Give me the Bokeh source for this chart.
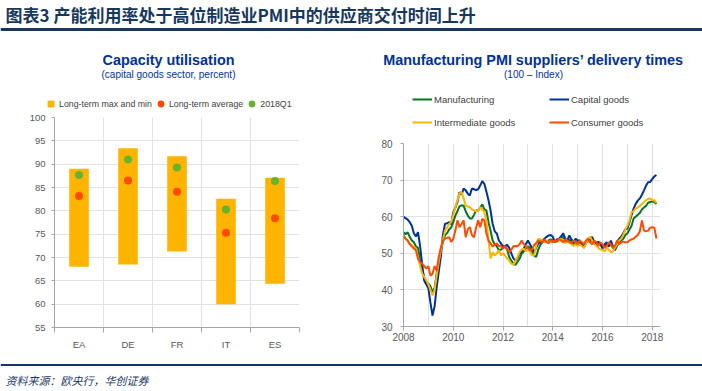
from bokeh.plotting import figure
from bokeh.layouts import column, row
from bokeh.models import (ColumnDataSource, FixedTicker, Legend, LegendItem,
                          Label, Span)
from bokeh.embed import file_html
from bokeh.resources import INLINE

# ---------------- data: capacity utilisation ----------------
countries = ["EA", "DE", "FR", "IT", "ES"]
lt_max = [89.0, 93.4, 91.7, 82.6, 87.1]
lt_min = [68.0, 68.5, 71.3, 60.0, 64.4]
lt_avg = [83.2, 86.5, 84.1, 75.3, 78.4]
q1_2018 = [87.7, 91.0, 89.3, 80.3, 86.4]
cu_ticks = [55, 60, 65, 70, 75, 80, 85, 90, 95, 100]

# ---------------- data: PMI suppliers' delivery times (monthly, Jan 2008 - Mar 2018) ----------------
start_year = 2008
manufacturing = [
    55.8, 55.2, 55.8, 54.5, 53.5, 53.0, 51.9, 51.5, 48.0, 45.3, 43.5, 42.0,
    41.7, 41.0, 39.4, 40.5, 44.5, 48.0, 50.8, 53.0, 54.9, 55.5, 56.5, 57.1,
    58.5, 60.3, 61.5, 62.8, 63.1, 63.0, 61.5, 60.3, 59.5, 59.5, 60.5, 61.7,
    61.7, 62.5, 63.4, 62.0, 61.7, 58.5, 56.2, 53.5, 52.5, 51.9, 50.8, 51.0,
    51.5, 51.9, 51.0, 49.0, 48.0, 47.2, 46.8, 47.7, 48.5, 49.9, 50.5, 51.0,
    51.9, 51.5, 50.5, 49.4, 49.0, 51.0, 52.3, 53.0, 53.5, 53.2, 53.5, 53.8,
    53.5, 53.0, 53.5, 53.8, 54.0, 54.5, 53.5, 53.0, 53.8, 53.2, 52.5, 53.0,
    53.0, 52.8, 52.5, 52.0, 52.8, 53.5, 53.0, 54.0, 53.0, 52.5, 53.0, 52.5,
    51.5, 52.0, 52.5, 51.8, 52.5, 51.5, 51.0, 52.0, 53.0, 53.5, 54.0, 55.0,
    55.5, 56.5, 57.5, 59.5, 60.0, 60.5, 61.0, 62.0, 62.5, 63.0, 63.8, 64.0,
    64.2, 64.0, 63.5,
]
capital_goods = [
    60.0, 59.6, 59.2, 58.5, 57.5, 55.5, 54.6, 55.8, 52.0, 47.0, 42.5, 41.5,
    40.4, 36.5, 33.0, 35.5, 40.7, 45.0, 49.0, 55.0, 58.0, 58.2, 58.5, 58.0,
    61.2, 62.5, 64.0, 66.7, 66.0, 67.7, 67.2, 66.3, 65.8, 67.7, 67.5, 67.3,
    67.5, 68.5, 69.7, 69.0, 66.8, 64.5, 61.7, 58.0, 56.0, 55.4, 53.5, 52.7,
    51.9, 52.0, 52.3, 51.5, 50.0, 48.6, 48.0, 48.8, 49.9, 50.5, 51.3, 52.5,
    53.5, 52.5, 51.5, 50.3, 51.5, 52.7, 53.0, 53.5, 54.0, 54.5, 54.9, 55.0,
    54.5, 53.2, 53.8, 54.0, 54.6, 55.5, 54.0, 53.5, 54.9, 53.8, 53.0, 54.0,
    53.5, 53.5, 52.5, 51.5, 53.0, 54.0, 53.5, 54.5, 53.0, 52.5, 53.2, 52.5,
    51.3, 52.5, 53.0, 52.0, 53.5, 52.0, 50.8, 53.0, 54.0, 54.5, 55.5, 56.5,
    56.8, 58.5, 60.5, 62.2, 63.5, 64.4, 65.0, 66.0, 67.2, 68.5, 69.4, 69.5,
    70.3, 71.0, 71.4,
]
intermediate_goods = [
    54.9, 54.0, 53.5, 52.7, 52.2, 51.8, 51.3, 49.0, 46.5, 44.5, 43.5, 42.6,
    41.5, 40.0, 38.5, 40.0, 43.9, 47.5, 50.8, 53.5, 56.2, 57.0, 58.0, 58.5,
    60.5, 62.6, 64.5, 66.3, 66.7, 65.0, 63.1, 62.8, 62.6, 62.0, 61.7, 61.5,
    61.7, 62.6, 62.0, 61.2, 59.0, 53.5, 48.6, 50.3, 49.4, 50.0, 50.8, 49.4,
    50.0, 49.4, 48.6, 48.0, 47.2, 46.8, 48.0, 49.0, 50.3, 51.0, 51.3, 50.5,
    51.3, 50.5, 49.4, 49.5, 52.0, 54.0, 53.8, 53.5, 53.0, 53.5, 53.0, 53.5,
    53.0, 53.5, 53.0, 53.8, 54.0, 53.5, 52.8, 53.0, 53.0, 52.5, 52.0, 52.5,
    52.0, 52.5, 52.0, 51.5, 52.5, 54.0, 54.5, 53.5, 52.5, 52.0, 51.5, 51.0,
    51.0, 50.5, 51.5, 51.0, 50.3, 50.5, 51.5, 52.5, 53.5, 54.0, 55.0, 56.5,
    57.5, 59.0, 61.2, 61.5, 62.2, 62.5, 63.0, 63.5, 64.0, 64.5, 64.9, 65.0,
    64.5, 64.5, 63.8,
]
consumer_goods = [
    54.9, 54.0, 53.5, 52.5, 51.9, 51.3, 50.8, 48.5, 47.6, 47.2, 46.5, 45.8,
    46.5, 43.9, 44.4, 46.5, 45.3, 49.0, 51.5, 53.5, 54.0, 54.2, 54.4, 53.1,
    54.0, 56.2, 59.0, 57.1, 58.0, 59.0, 54.4, 56.6, 57.1, 55.0, 54.4, 57.0,
    59.0, 57.1, 59.4, 59.0, 55.4, 53.5, 52.7, 51.9, 52.3, 52.7, 51.9, 52.0,
    51.3, 52.0, 51.0, 50.3, 51.0, 51.9, 52.0, 51.9, 52.5, 53.5, 52.5, 51.9,
    51.5, 50.8, 51.0, 52.3, 52.8, 53.5, 53.3, 53.0, 53.8, 53.0, 52.8, 53.5,
    53.0, 53.5, 53.2, 54.0, 53.5, 53.0, 53.8, 53.5, 53.0, 52.8, 53.5, 53.0,
    52.5, 53.5, 53.0, 52.5, 53.5, 54.0, 53.0, 52.5, 53.5, 53.0, 52.0, 53.0,
    52.5, 51.5, 52.0, 53.0, 52.5, 51.5, 52.0, 53.5, 52.5, 53.0, 53.2, 53.0,
    53.0, 53.5, 53.8, 54.0, 54.5, 55.0, 56.0, 59.0, 56.2, 56.0, 56.2, 57.0,
    57.1, 57.0, 54.0,
]
year_labels = [2008, 2010, 2012, 2014, 2016, 2018]
year_grid = list(range(2008, 2019))
pmi_ticks = [30, 40, 50, 60, 70, 80]

# ---------------- style ----------------
NAVY = "#17375E"
ECB_BLUE = "#003299"
ORANGE = "#FFB400"
RED = "#FF4B00"
GREEN = "#65B32E"
DKGREEN = "#00781E"
YELLOW = "#FFB400"
GRID = "#E2E2E2"
AXIS = "#A6A6A6"
TXT = "#595959"
LEGTXT = "#404040"
FONT = "Liberation Sans"
CJK = "Noto Sans CJK SC"
W = 702
HALF = 351
NAN = float("nan")


def blank(width, height):
    f = figure(width=width, height=height, x_range=(0, width), y_range=(0, height),
               output_backend="svg", toolbar_location=None, min_border=0,
               x_axis_type=None, y_axis_type=None, title=None, frame_align=False)
    f.grid.visible = False
    f.outline_line_color = None
    return f


def style_axes(p, size):
    for ax in (p.xaxis[0], p.yaxis[0]):
        ax.axis_line_color = AXIS
        ax.major_tick_line_color = AXIS
        ax.minor_tick_line_color = None
        ax.major_tick_in = 0
        ax.major_tick_out = 3
        ax.major_label_text_font = FONT
        ax.major_label_text_font_size = size
        ax.major_label_text_color = TXT
    p.grid.grid_line_color = GRID
    p.outline_line_color = None


def text(f, x, y, s, size, bold=False, color=ECB_BLUE):
    f.add_layout(Label(x=x, y=y, text=s, text_font=FONT, text_font_size=size,
                       text_font_style="bold" if bold else "normal",
                       text_color=color, text_align="center", text_baseline="middle"))


# ---------------- header ----------------
hdr = blank(W, 36)
hdr.add_layout(Label(x=5, y=22, text="图表3 产能利用率处于高位制造业PMI中的供应商交付时间上升",
                     text_font=CJK, text_font_size="17px", text_font_style="bold",
                     text_color=NAVY, text_baseline="middle"))
hdr.add_layout(Span(location=7, dimension="width", line_color=NAVY, line_width=3))

# ---------------- left chart: title block ----------------
top1 = blank(HALF, 76)
text(top1, 168, 53, "Capacity utilisation", "14.4px", bold=True)
text(top1, 168, 38, "(capital goods sector, percent)", "10px")
d_sq = top1.scatter(x=[NAN], y=[NAN], marker="square", fill_color=ORANGE, line_color=None)
d_avg = top1.scatter(x=[NAN], y=[NAN], marker="circle", fill_color=RED, line_color=None)
d_q1 = top1.scatter(x=[NAN], y=[NAN], marker="circle", fill_color=GREEN, line_color=None)
leg1 = Legend(items=[LegendItem(label="Long-term max and min", renderers=[d_sq]),
                     LegendItem(label="Long-term average", renderers=[d_avg]),
                     LegendItem(label="2018Q1", renderers=[d_q1])],
              orientation="horizontal", location=(42, 0), margin=0, padding=0,
              glyph_width=17, glyph_height=17, label_height=17, label_standoff=-4, spacing=-1,
              label_text_font=FONT, label_text_font_size="8.8px", label_text_color=LEGTXT,
              border_line_color=None, background_fill_alpha=0)
top1.add_layout(leg1, "center")

# ---------------- left chart ----------------
xpos = list(range(1, len(countries) + 1))
src1 = ColumnDataSource(dict(x=xpos, hi=lt_max, lo=lt_min, avg=lt_avg, q1=q1_2018))
p1 = figure(width=HALF, height=243, x_range=(0.5, len(countries) + 0.5), y_range=(55, 100),
            output_backend="svg", toolbar_location=None, title=None, frame_align=False,
            min_border_left=54, min_border_right=52, min_border_top=5, min_border_bottom=28)
p1.vbar(x="x", width=0.4, bottom="lo", top="hi", source=src1,
        fill_color=ORANGE, line_color=None)
p1.scatter("x", "avg", size=8, fill_color=RED, line_color=None, source=src1)
p1.scatter("x", "q1", size=8, fill_color=GREEN, line_color=None, source=src1)

style_axes(p1, "9.5px")
p1.yaxis[0].ticker = FixedTicker(ticks=cu_ticks)
p1.yaxis[0].major_label_standoff = 6
bounds = [v - 0.5 for v in xpos] + [xpos[-1] + 0.5]
p1.xaxis[0].ticker = FixedTicker(ticks=xpos, minor_ticks=bounds)
p1.xaxis[0].major_label_overrides = {i: c for i, c in zip(xpos, countries)}
p1.xaxis[0].major_tick_out = 0
p1.xaxis[0].minor_tick_line_color = AXIS
p1.xaxis[0].minor_tick_in = 0
p1.xaxis[0].minor_tick_out = 5
p1.xaxis[0].major_label_standoff = 6
p1.xgrid.ticker = FixedTicker(ticks=bounds)

# ---------------- right chart: title block ----------------
top2 = blank(HALF, 100)
text(top2, 182, 77, "Manufacturing PMI suppliers\u2019 delivery times", "14.4px", bold=True)
text(top2, 182, 62, "(100 \u2013 Index)", "10px")
d_man = top2.line(x=[NAN, NAN], y=[NAN, NAN], line_color=DKGREEN, line_width=2)
d_cap = top2.line(x=[NAN, NAN], y=[NAN, NAN], line_color=ECB_BLUE, line_width=2)
d_int = top2.line(x=[NAN, NAN], y=[NAN, NAN], line_color=YELLOW, line_width=2)
d_con = top2.line(x=[NAN, NAN], y=[NAN, NAN], line_color=RED, line_width=2)
leg2 = Legend(items=[LegendItem(label="Manufacturing", renderers=[d_man]),
                     LegendItem(label="Capital goods", renderers=[d_cap]),
                     LegendItem(label="Intermediate goods", renderers=[d_int]),
                     LegendItem(label="Consumer goods", renderers=[d_con])],
              orientation="horizontal", ncols=2, location=(61, 8), margin=0, padding=0,
              glyph_width=20, glyph_height=12, label_height=12, label_standoff=2,
              label_width=104, spacing=11,
              label_text_font=FONT, label_text_font_size="9.5px", label_text_color=LEGTXT,
              border_line_color=None, background_fill_alpha=0)
top2.add_layout(leg2, "center")

# ---------------- right chart ----------------
months = [start_year + i / 12 for i in range(len(capital_goods))]
src2 = ColumnDataSource(dict(t=months, man=manufacturing, cap=capital_goods,
                             inter=intermediate_goods, cons=consumer_goods))
p2 = figure(width=HALF, height=219, x_range=(2008, 2018.33), y_range=(30, 80),
            output_backend="svg", toolbar_location=None, title=None, frame_align=False,
            min_border_left=52, min_border_right=42, min_border_top=7, min_border_bottom=29)
p2.line("t", "man", source=src2, line_color=DKGREEN, line_width=2)
p2.line("t", "cap", source=src2, line_color=ECB_BLUE, line_width=2)
p2.line("t", "inter", source=src2, line_color=YELLOW, line_width=2)
p2.line("t", "cons", source=src2, line_color=RED, line_width=2)

style_axes(p2, "10px")
p2.yaxis[0].ticker = FixedTicker(ticks=pmi_ticks)
p2.yaxis[0].major_label_standoff = 8
p2.xaxis[0].ticker = FixedTicker(ticks=year_labels)
p2.xaxis[0].major_tick_out = 4
p2.xaxis[0].major_label_standoff = 2
p2.xgrid.ticker = FixedTicker(ticks=year_grid)

# ---------------- footer ----------------
ftr = blank(W, 36)
ftr.add_layout(Span(location=26.5, dimension="width", line_color=NAVY, line_width=2))
ftr.add_layout(Label(x=5, y=12, text="资料来源：欧央行，华创证券", text_font=CJK,
                     text_font_size="11px", text_font_style="italic", text_color="#1F3864",
                     text_baseline="middle"))

page = column(hdr,
              row(column(top1, p1, spacing=0), column(top2, p2, spacing=0), spacing=0),
              ftr, spacing=0)
open("out.html", "w").write(file_html(page, INLINE))
